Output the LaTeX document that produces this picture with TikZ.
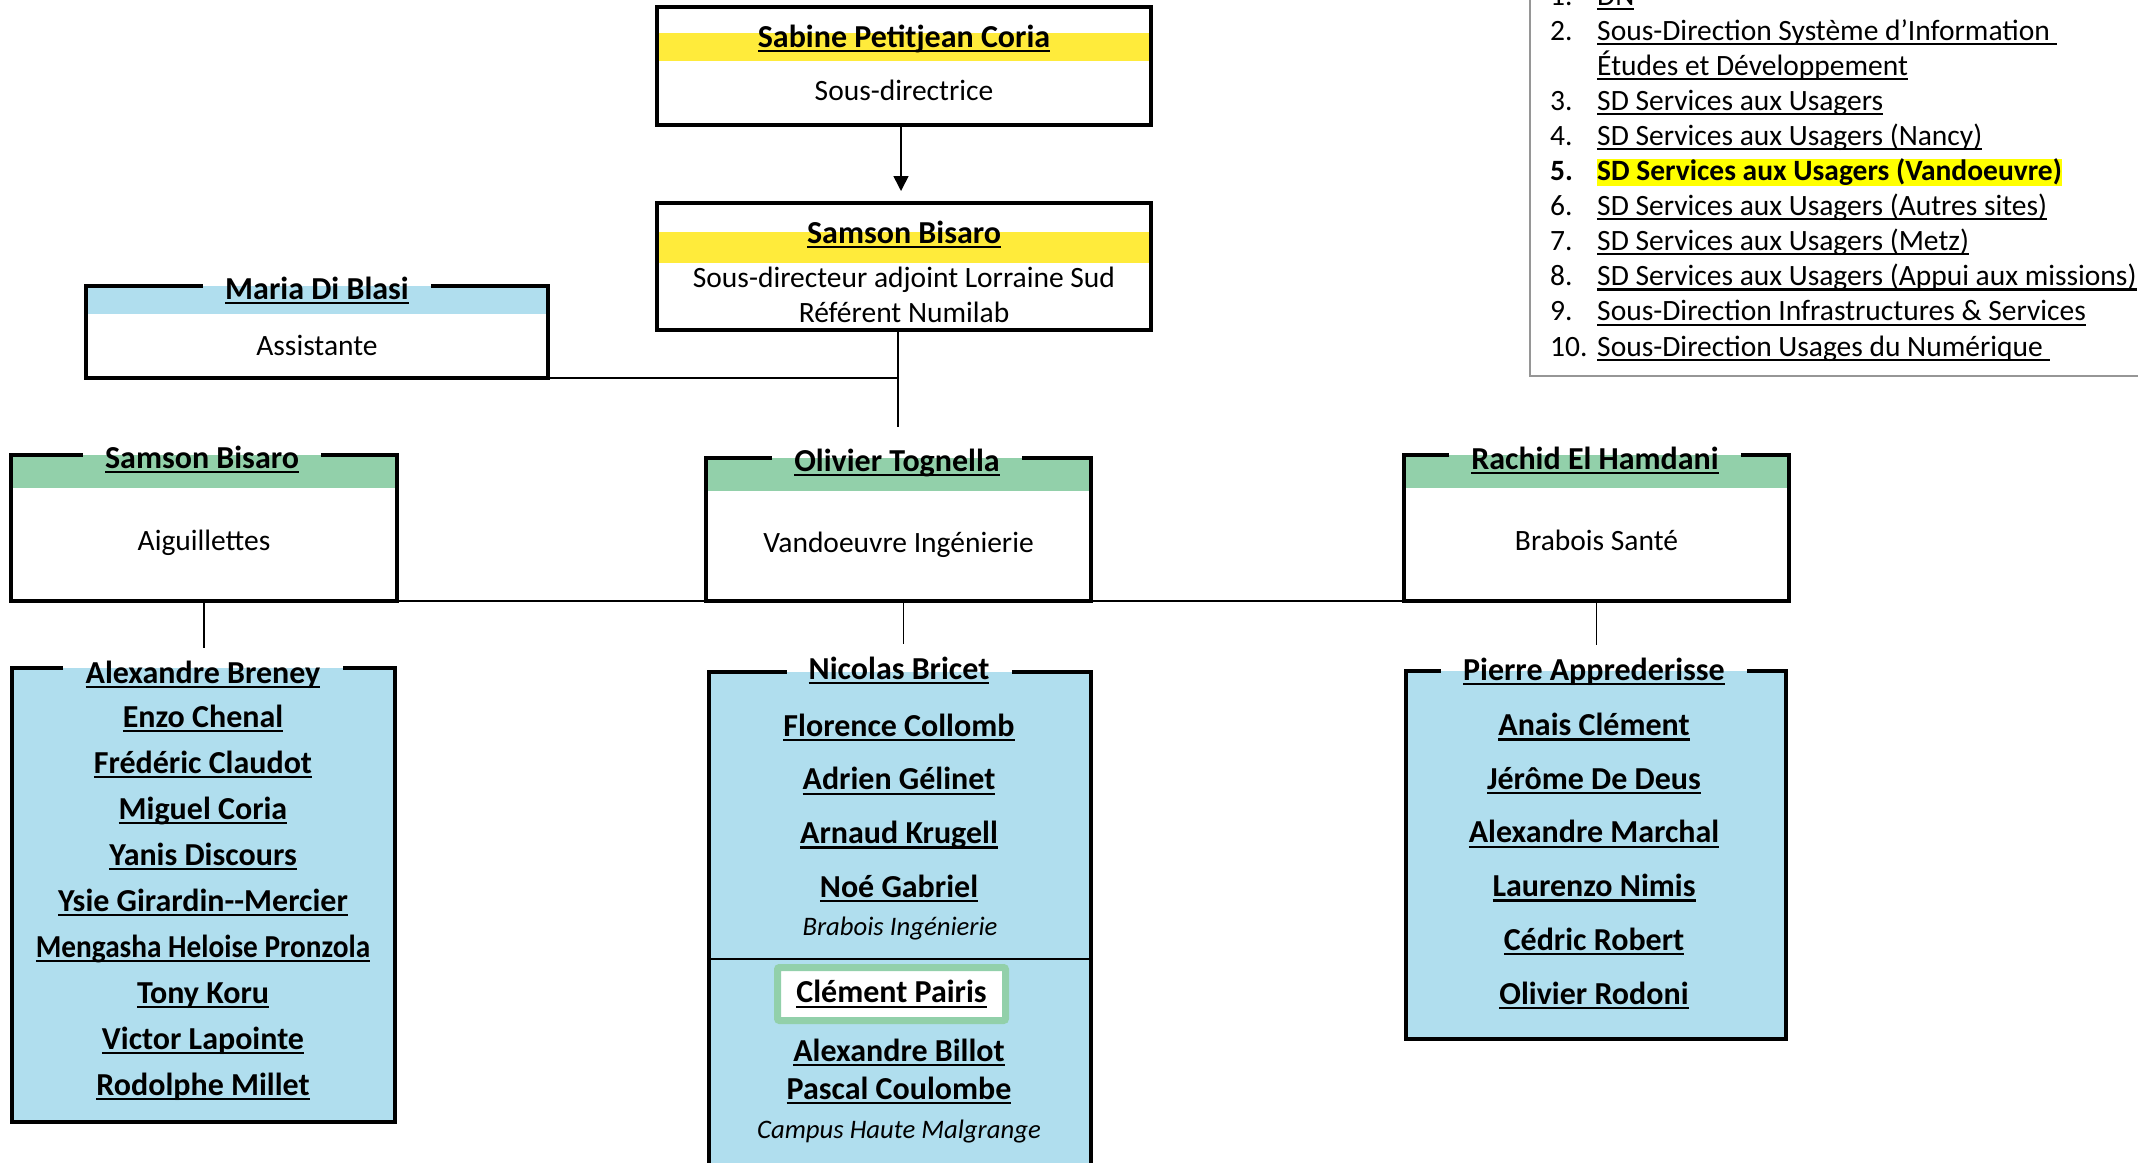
\documentclass[tikz,border=0pt]{standalone}
\usepackage{fontspec}
\usepackage{graphicx}
\setmainfont{Carlito}
\usetikzlibrary{positioning,arrows.meta}

\definecolor{bandyellow}{RGB}{255,235,59}
\definecolor{bandblue}{RGB}{176,222,238}
\definecolor{bandgreen}{RGB}{146,208,170}
\definecolor{hlyellow}{RGB}{255,255,0}
\definecolor{legendgray}{RGB}{150,150,150}

\newcommand{\nameul}[1]{\setbox0=\hbox{#1}\rlap{\rule[-0.16em]{\wd0}{0.07em}}\box0}
\newcommand{\legitem}[2]{\makebox[47pt][l]{#1}#2}
\newcommand{\titlefont}{\fontsize{32}{38}\selectfont\bfseries}
\newcommand{\rolefont}{\fontsize{29.5}{35}\selectfont}

\begin{document}
\begin{tikzpicture}[
    x=1pt, y=-1pt,
    frame/.style={inner sep=0pt, outer sep=0pt},
    boxline/.style={line width=3.5pt},
    link/.style={line width=1.6pt},
    arrow/.style={-{Triangle[length=15pt,width=15pt]}, line width=1.6pt},
    title/.style={font=\titlefont, inner xsep=22pt, inner ysep=0pt},
    role/.style={font=\rolefont, align=center, inner sep=0pt},
    names/.style={font=\fontsize{32}{#1}\selectfont\bfseries, align=center, inner sep=0pt},
    note/.style={font=\fontsize{26.7}{30}\selectfont\itshape, inner sep=0pt},
    legend/.style={font=\fontsize{29.5}{35.1}\selectfont, align=left, inner sep=0pt},
]
\useasboundingbox (0,0) rectangle (2138,1162);

% direction
\node[frame, minimum width=494pt, minimum height=118pt] (sabine) at (904,66) {};
\fill[bandyellow] ([yshift=-26pt]sabine.north west) rectangle ([yshift=-54pt]sabine.north east);
\draw[boxline] (sabine.north west) rectangle (sabine.south east);
\node[title, anchor=base] (sabinettl) at (904,47) {\nameul{Sabine Petitjean Coria}};
\node[role, anchor=base] (sabinerole) at (904,100) {Sous-directrice};

\node[frame, minimum width=494pt, minimum height=127pt] (deputy) at (904,266.5) {};
\fill[bandyellow] ([yshift=-29pt]deputy.north west) rectangle ([yshift=-60pt]deputy.north east);
\draw[boxline] (deputy.north west) rectangle (deputy.south east);
\node[title, anchor=base] (deputyttl) at (904,243) {\nameul{Samson Bisaro}};
\node[role, anchor=base] (deputyrole) at (904,322) {Sous-directeur adjoint Lorraine Sud\\Référent Numilab};

\draw[arrow, shorten >=12pt] ([xshift=-3pt]sabine.south) -- ([xshift=-3pt]deputy.north);

% assistante
\node[frame, minimum width=462pt, minimum height=92pt] (maria) at (317,332) {};
\fill[bandblue] (maria.north west) rectangle ([yshift=-28pt]maria.north east);
\node[title, anchor=base] (mariattl) at (317,299) {\nameul{Maria Di Blasi}};
\draw[boxline] (mariattl.west |- maria.north) -- (maria.north west) -- (maria.south west) -- (maria.south east) -- (maria.north east) -- (mariattl.east |- maria.north);
\node[role, anchor=base] (mariarole) at (317,355) {Assistante};

% sites
\node[frame, minimum width=386pt, minimum height=146pt] (aig) at (204,528) {};
\fill[bandgreen] (aig.north west) rectangle ([yshift=-33pt]aig.north east);
\node[title, anchor=base] (aigttl) at (202,468) {\nameul{Samson Bisaro}};
\draw[boxline] (aigttl.west |- aig.north) -- (aig.north west) -- (aig.south west) -- (aig.south east) -- (aig.north east) -- (aigttl.east |- aig.north);
\node[role, anchor=base] (aigrole) at (204,550) {Aiguillettes};

\node[frame, minimum width=385pt, minimum height=143pt] (olivier) at (898.5,529.5) {};
\fill[bandgreen] (olivier.north west) rectangle ([yshift=-33pt]olivier.north east);
\node[title, anchor=base] (olivierttl) at (897,471) {\nameul{Olivier Tognella}};
\draw[boxline] (olivierttl.west |- olivier.north) -- (olivier.north west) -- (olivier.south west) -- (olivier.south east) -- (olivier.north east) -- (olivierttl.east |- olivier.north);
\node[role, anchor=base] (olivierrole) at (898.5,552) {Vandoeuvre Ingénierie};

\node[frame, minimum width=385pt, minimum height=146pt] (rachid) at (1596.5,528) {};
\fill[bandgreen] (rachid.north west) rectangle ([yshift=-33pt]rachid.north east);
\node[title, anchor=base] (rachidttl) at (1595,469) {\nameul{Rachid El Hamdani}};
\draw[boxline] (rachidttl.west |- rachid.north) -- (rachid.north west) -- (rachid.south west) -- (rachid.south east) -- (rachid.north east) -- (rachidttl.east |- rachid.north);
\node[role, anchor=base] (rachidrole) at (1596.5,550) {Brabois Santé};

% teams
\node[frame, fill=bandblue, minimum width=383pt, minimum height=454pt] (alexlist) at (203.5,895) {};
\node[title, anchor=base] (alexttl) at (203,683) {\nameul{Alexandre Breney}};
\draw[boxline] (alexttl.west |- alexlist.north) -- (alexlist.north west) -- (alexlist.south west) -- (alexlist.south east) -- (alexlist.north east) -- (alexttl.east |- alexlist.north);
\node[names=46, anchor=base] (alexnames) at (203,1095) {\nameul{Enzo Chenal}\\\nameul{Frédéric Claudot}\\\nameul{Miguel Coria}\\\nameul{Yanis Discours}\\\nameul{Ysie Girardin-{}-Mercier}\\\scalebox{0.915}[1]{\nameul{Mengasha Heloise Pronzola}}\\\nameul{Tony Koru}\\\nameul{Victor Lapointe}\\\nameul{Rodolphe Millet}};

\node[frame, fill=bandblue, minimum width=382pt, minimum height=508pt] (nicolaslist) at (900,926) {};
\node[title, anchor=base] (nicolasttl) at (899,679) {\nameul{Nicolas Bricet}};
\draw[boxline] (nicolasttl.west |- nicolaslist.north) -- (nicolaslist.north west) -- (nicolaslist.south west) -- (nicolaslist.south east) -- (nicolaslist.north east) -- (nicolasttl.east |- nicolaslist.north);
\node[names=53.6, anchor=base] (nicolasnames) at (899,897) {\nameul{Florence Collomb}\\\nameul{Adrien Gélinet}\\\nameul{Arnaud Krugell}\\\nameul{Noé Gabriel}};
\node[note, anchor=base] (brabois) at (900,935) {Brabois Ingénierie};
\node[draw=bandgreen, line width=7pt, fill=white, rounded corners=2pt, minimum width=228pt, minimum height=53pt, inner sep=0pt, font=\titlefont] (clement) at (891.5,994) {\nameul{Clément Pairis}};
\draw[link] ([yshift=5pt]clement.north -| nicolaslist.west) -- ([yshift=5pt]clement.north -| nicolaslist.east);
\node[names=38, anchor=base] (billot) at (899,1099) {\nameul{Alexandre Billot}\\\nameul{Pascal Coulombe}};
\node[note, anchor=base] (campus) at (899,1138) {Campus Haute Malgrange};

\node[frame, fill=bandblue, minimum width=380pt, minimum height=368pt] (pierrelist) at (1596,855) {};
\node[title, anchor=base] (pierrettl) at (1594,680) {\nameul{Pierre Apprederisse}};
\draw[boxline] (pierrettl.west |- pierrelist.north) -- (pierrelist.north west) -- (pierrelist.south west) -- (pierrelist.south east) -- (pierrelist.north east) -- (pierrettl.east |- pierrelist.north);
\node[names=53.7, anchor=base] (pierrenames) at (1594,1004) {\nameul{Anais Clément}\\\nameul{Jérôme De Deus}\\\nameul{Alexandre Marchal}\\\nameul{Laurenzo Nimis}\\\nameul{Cédric Robert}\\\nameul{Olivier Rodoni}};

% connectors
\coordinate (hub) at ([xshift=-6pt]deputy.south);
\draw[link, shorten >=21pt] (hub) -- (hub |- olivierttl.north);
\draw[link] (maria.south east) -- (maria.south east -| hub);
\draw[link] (aig.south east) -- (rachid.south west);
\draw[link, shorten >=12pt] (aig.south) -- (aig.south |- alexttl.north);
\draw[link, shorten >=12pt] ([xshift=5pt]olivier.south) -- ([xshift=5pt]olivier.south |- nicolasttl.north);
\draw[link, shorten >=12pt] (rachid.south) -- (rachid.south |- pierrettl.north);

% legend
\node[legend, anchor=base west] (legend) at (1550,356) {%
  \legitem{1.}{\nameul{DN}}\\
  \legitem{2.}{\nameul{Sous-Direction Système d’Information\ }}\\
  \legitem{}{\nameul{Études et Développement}}\\
  \legitem{3.}{\nameul{SD Services aux Usagers}}\\
  \legitem{4.}{\nameul{SD Services aux Usagers (Nancy)}}\\
  \legitem{\bfseries 5.}{{\setlength{\fboxsep}{0pt}\colorbox{hlyellow}{\bfseries SD Services aux Usagers (Vandoeuvre)}}}\\
  \legitem{6.}{\nameul{SD Services aux Usagers (Autres sites)}}\\
  \legitem{7.}{\nameul{SD Services aux Usagers (Metz)}}\\
  \legitem{8.}{\nameul{SD Services aux Usagers (Appui aux missions)}}\\
  \legitem{9.}{\nameul{Sous-Direction Infrastructures \& Services}}\\
  \legitem{10.}{\nameul{Sous-Direction Usages du Numérique\ }}};
\draw[legendgray, line width=2.5pt] (legend.west |- 0,-10) ++(-20pt,0) coordinate (legtop) -- (legtop |- 0,376) -- (2150,376);
\end{tikzpicture}
\end{document}
